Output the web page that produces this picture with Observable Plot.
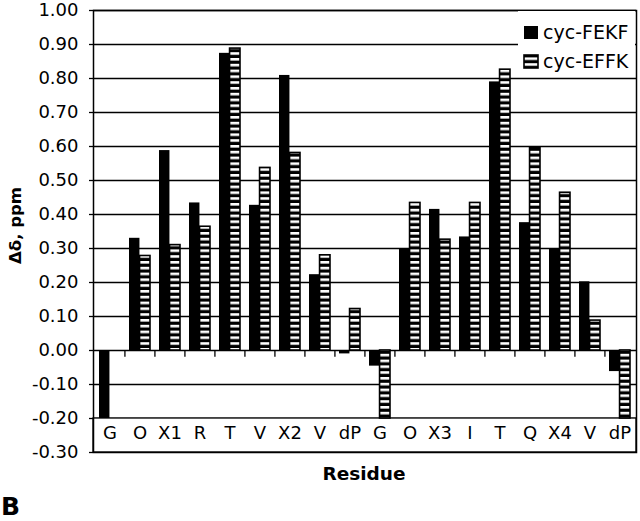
<!DOCTYPE html>
<html>
<head>
<meta charset="utf-8">
<script src="https://cdn.jsdelivr.net/npm/d3@7"></script>
<script src="https://cdn.jsdelivr.net/npm/@observablehq/plot@0.6"></script>
<style>
  body { margin: 0; background: #fff; font-family: "DejaVu Sans", Verdana, sans-serif; }
  #wrap { position: relative; width: 640px; height: 521px; overflow: hidden; background: #fff; }
  #chart { position: absolute; left: 0; top: 0; }
  .ann { position: absolute; line-height: 1; color: #000; white-space: nowrap; }
  #xlabel { left: 264px; top: 465px; width: 200px; text-align: center; font-weight: bold; font-size: 18.5px; }
  #ylabel { left: -60.5px; top: 217px; width: 150px; height: 17px; line-height: 17px; text-align: center; font-weight: bold; font-size: 16.5px; transform: rotate(-90deg); transform-origin: center; }
  #panel { left: 1px; top: 494px; font-weight: bold; font-size: 25px; }
  #legend { position: absolute; left: 518px; top: 11px; width: 117px; height: 65px; background: #fff; }
</style>
</head>
<body>
<svg width="0" height="0" style="position:absolute">
  <defs>
    <pattern id="stripes" patternUnits="userSpaceOnUse" width="8" height="5.8">
      <rect width="8" height="5.8" fill="black"></rect>
      <rect y="0" width="8" height="2.6" fill="white"></rect>
    </pattern>
  </defs>
</svg>
<div id="wrap">
  <div id="chart"></div>
  <div id="legend"></div>
  <div class="ann" id="xlabel">Residue</div>
  <div class="ann" id="ylabel">Δδ, ppm</div>
  <div class="ann" id="panel">B</div>
</div>
<script>
const residues = ["G","O","X1","R","T","V","X2","V","dP","G","O","X3","I","T","Q","X4","V","dP"];
const fekf = [-0.20, 0.33, 0.588, 0.434, 0.874, 0.427, 0.809, 0.223, -0.01, -0.046, 0.298, 0.415, 0.334, 0.79, 0.376, 0.298, 0.202, -0.062];
const effk = [null, 0.278, 0.31, 0.364, 0.888, 0.537, 0.581, 0.28, 0.122, -0.20, 0.434, 0.326, 0.434, 0.826, 0.596, 0.464, 0.088, -0.20];
const seriesNames = ["cyc-FEKF", "cyc-EFFK"];
const yTicks = d3.range(-3, 11).map(k => k / 10);
const gridLevels = d3.range(-2, 11).map(k => k / 10);

const rows = residues.map((r, i) => ({idx: i, residue: r, fekf: fekf[i], effk: effk[i]}));
const boundaries = d3.range(1, residues.length);

const W = 640, H = 470, ML = 93, MR = 4;
const step = (W - ML - MR) / residues.length;
const bandwidth = step * 0.7;
const half = bandwidth / 2;

const chart = Plot.plot({
  width: W,
  height: H,
  marginTop: 10,
  marginBottom: 18,
  marginLeft: ML,
  marginRight: MR,
  style: {fontFamily: "'DejaVu Sans', Verdana, sans-serif", fontSize: "18px", background: "transparent", color: "black"},
  x: {type: "band", domain: d3.range(residues.length), paddingInner: 0.3, paddingOuter: 0.15, axis: null},
  y: {domain: [-0.3, 1.0], axis: null},
  marks: [
    Plot.ruleY(gridLevels, {stroke: "black", strokeWidth: 1.3}),
    Plot.rect([0], {y1: -0.3, y2: -0.2, fill: "white", stroke: "black", strokeWidth: 1.3}),
    Plot.barY(rows.filter(d => d.fekf != null), {x: "idx", y: "fekf", fill: "black", insetRight: half}),
    Plot.barY(rows.filter(d => d.effk != null), {x: "idx", y: "effk", fill: "url(#stripes)", stroke: "black", strokeWidth: 1.6, insetLeft: half}),
    Plot.ruleX(boundaries, {x: d => d, dx: -step / 2, y1: 0, y2: -0.02, stroke: "black", strokeWidth: 1.3}),
    Plot.text(rows, {x: "idx", y: -0.25, text: "residue", fontSize: 18, dy: -2, fill: "black"}),
    Plot.axisY(yTicks, {tickFormat: d => d.toFixed(2), tickSize: 4, tickPadding: 11, fontSize: 18, stroke: "black", strokeWidth: 1.3, label: null}),
    Plot.frame({stroke: "black", strokeWidth: 1.5})
  ]
});
document.getElementById("chart").appendChild(chart);

// Legend
const lg = d3.select("#legend").append("svg").attr("width", 117).attr("height", 65)
  .style("font-family", "'DejaVu Sans', Verdana, sans-serif");
const items = lg.selectAll("g").data(seriesNames).join("g")
  .attr("transform", (d, i) => `translate(0, ${i * 29})`);
items.append("rect").attr("x", 6).attr("y", 15).attr("width", 14).attr("height", 13)
  .attr("fill", (d, i) => i === 0 ? "black" : "url(#stripes)")
  .attr("stroke", (d, i) => i === 0 ? "none" : "black")
  .attr("stroke-width", 1.6);
items.append("text").attr("x", 25).attr("y", 28).attr("font-size", 19).attr("fill", "black").text(d => d);
</script>
</body>
</html>
